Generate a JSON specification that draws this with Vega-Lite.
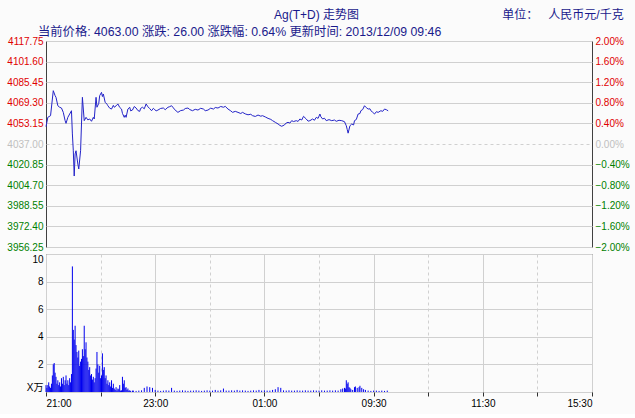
{
  "$schema": "https://vega.github.io/schema/vega-lite/v6.json",
  "background": "#fbfbfb",
  "padding": {"left": 6, "top": 9, "right": 5, "bottom": 5},
  "bounds": "flush",
  "config": {
    "font": "Liberation Sans, Noto Sans CJK SC",
    "view": {"stroke": "#404040", "strokeWidth": 1, "fill": "#fbfbfb"},
    "axis": {"labelFont": "Liberation Sans", "labelFontSize": 10, "gridColor": "#d0d0d0", "gridWidth": 1}
  },
  "title": {
    "text": "Ag(T+D) 走势图\u00a0\u00a0\u00a0\u00a0\u00a0\u00a0\u00a0\u00a0\u00a0\u00a0\u00a0\u00a0\u00a0\u00a0\u00a0\u00a0\u00a0\u00a0\u00a0\u00a0\u00a0\u00a0\u00a0\u00a0\u00a0\u00a0\u00a0\u00a0\u00a0\u00a0\u00a0\u00a0\u00a0\u00a0\u00a0\u00a0\u00a0\u00a0\u00a0\u00a0\u00a0\u00a0\u00a0单位：\u00a0\u00a0\u00a0人民币元/千克",
    "anchor": "end",
    "font": "Liberation Sans, Noto Sans CJK SC",
    "fontSize": 12,
    "fontWeight": "normal",
    "color": "#1a1a8c",
    "offset": 3,
    "dx": -6
  },
  "spacing": 7,
  "datasets": {
    "price": [
      {"t": 0, "p": 4050.6}, {"t": 2, "p": 4057.9}, {"t": 5, "p": 4059.2}, {"t": 8, "p": 4078.8},
      {"t": 10, "p": 4074.9}, {"t": 11, "p": 4073.6}, {"t": 13, "p": 4067.0}, {"t": 15, "p": 4065.8},
      {"t": 17, "p": 4065.2}, {"t": 19, "p": 4061.8}, {"t": 21, "p": 4055.3}, {"t": 22, "p": 4053.2},
      {"t": 24, "p": 4057.9}, {"t": 26, "p": 4060.5}, {"t": 28, "p": 4063.1}, {"t": 29, "p": 4044.9},
      {"t": 30, "p": 4031.7}, {"t": 31, "p": 4011.9}, {"t": 32, "p": 4029.2}, {"t": 33, "p": 4031.7},
      {"t": 35, "p": 4021.3}, {"t": 36, "p": 4017.4}, {"t": 38, "p": 4031.7}, {"t": 39, "p": 4052.7},
      {"t": 40, "p": 4073.6}, {"t": 42, "p": 4055.3}, {"t": 44, "p": 4057.9}, {"t": 46, "p": 4055.9},
      {"t": 48, "p": 4056.6}, {"t": 50, "p": 4054.8}, {"t": 52, "p": 4057.9}, {"t": 53, "p": 4056.6},
      {"t": 55, "p": 4073.6}, {"t": 56, "p": 4065.8}, {"t": 58, "p": 4068.9}, {"t": 59, "p": 4074.9},
      {"t": 61, "p": 4077.5}, {"t": 62, "p": 4074.2}, {"t": 63, "p": 4076.2}, {"t": 65, "p": 4069.7},
      {"t": 67, "p": 4068.2}, {"t": 68, "p": 4067.0}, {"t": 70, "p": 4065.1}, {"t": 72, "p": 4064.4},
      {"t": 74, "p": 4067.3}, {"t": 75, "p": 4065.8}, {"t": 77, "p": 4066.9}, {"t": 79, "p": 4068.4},
      {"t": 81, "p": 4065.7}, {"t": 83, "p": 4064.4}, {"t": 84, "p": 4061.0}, {"t": 86, "p": 4057.9},
      {"t": 87, "p": 4059.6}, {"t": 88, "p": 4057.9}, {"t": 90, "p": 4064.4}, {"t": 92, "p": 4065.8},
      {"t": 93, "p": 4063.0}, {"t": 95, "p": 4063.6}, {"t": 97, "p": 4066.4}, {"t": 99, "p": 4065.2},
      {"t": 101, "p": 4063.2}, {"t": 103, "p": 4062.6}, {"t": 104, "p": 4064.9}, {"t": 106, "p": 4065.8},
      {"t": 108, "p": 4064.6}, {"t": 110, "p": 4068.4}, {"t": 112, "p": 4066.2}, {"t": 114, "p": 4064.7},
      {"t": 116, "p": 4063.1}, {"t": 118, "p": 4065.0}, {"t": 119, "p": 4064.4}, {"t": 121, "p": 4062.9},
      {"t": 123, "p": 4063.6}, {"t": 126, "p": 4064.9}, {"t": 129, "p": 4065.2}, {"t": 131, "p": 4063.9},
      {"t": 134, "p": 4065.8}, {"t": 136, "p": 4066.3}, {"t": 138, "p": 4067.0}, {"t": 140, "p": 4065.3},
      {"t": 141, "p": 4064.4}, {"t": 143, "p": 4062.9}, {"t": 145, "p": 4061.8}, {"t": 148, "p": 4063.2},
      {"t": 151, "p": 4063.6}, {"t": 153, "p": 4064.8}, {"t": 156, "p": 4065.2}, {"t": 158, "p": 4064.0},
      {"t": 161, "p": 4063.1}, {"t": 164, "p": 4064.2}, {"t": 167, "p": 4063.6}, {"t": 170, "p": 4065.0},
      {"t": 173, "p": 4064.4}, {"t": 175, "p": 4063.1}, {"t": 178, "p": 4063.6}, {"t": 181, "p": 4065.1},
      {"t": 184, "p": 4064.4}, {"t": 186, "p": 4065.6}, {"t": 189, "p": 4065.2}, {"t": 192, "p": 4066.4},
      {"t": 195, "p": 4065.8}, {"t": 197, "p": 4066.5}, {"t": 200, "p": 4064.4}, {"t": 203, "p": 4063.0},
      {"t": 205, "p": 4061.8}, {"t": 208, "p": 4062.6}, {"t": 211, "p": 4061.8}, {"t": 214, "p": 4060.9},
      {"t": 216, "p": 4061.8}, {"t": 219, "p": 4060.6}, {"t": 222, "p": 4059.9}, {"t": 225, "p": 4060.3},
      {"t": 227, "p": 4059.2}, {"t": 230, "p": 4058.6}, {"t": 233, "p": 4059.7}, {"t": 236, "p": 4058.8},
      {"t": 238, "p": 4059.2}, {"t": 241, "p": 4058.2}, {"t": 244, "p": 4057.1}, {"t": 247, "p": 4056.3},
      {"t": 249, "p": 4055.3}, {"t": 252, "p": 4054.0}, {"t": 255, "p": 4052.7}, {"t": 257, "p": 4051.6},
      {"t": 259, "p": 4050.9}, {"t": 262, "p": 4051.9}, {"t": 264, "p": 4053.5}, {"t": 266, "p": 4054.0},
      {"t": 268, "p": 4053.4}, {"t": 270, "p": 4055.3}, {"t": 272, "p": 4054.6}, {"t": 275, "p": 4055.3},
      {"t": 277, "p": 4054.7}, {"t": 279, "p": 4056.6}, {"t": 281, "p": 4055.8}, {"t": 283, "p": 4058.7},
      {"t": 286, "p": 4056.6}, {"t": 288, "p": 4054.9}, {"t": 290, "p": 4055.3}, {"t": 293, "p": 4056.6},
      {"t": 295, "p": 4055.6}, {"t": 297, "p": 4057.9}, {"t": 299, "p": 4057.1}, {"t": 301, "p": 4060.5},
      {"t": 302, "p": 4058.4}, {"t": 304, "p": 4056.6}, {"t": 306, "p": 4057.2}, {"t": 308, "p": 4055.3},
      {"t": 311, "p": 4056.1}, {"t": 314, "p": 4055.3}, {"t": 317, "p": 4055.8}, {"t": 319, "p": 4054.8},
      {"t": 322, "p": 4055.6}, {"t": 325, "p": 4055.3}, {"t": 328, "p": 4054.5}, {"t": 330, "p": 4051.3},
      {"t": 331, "p": 4048.4}, {"t": 332, "p": 4045.5}, {"t": 334, "p": 4051.3}, {"t": 336, "p": 4052.7},
      {"t": 338, "p": 4051.9}, {"t": 339, "p": 4055.3}, {"t": 341, "p": 4056.2}, {"t": 343, "p": 4060.5},
      {"t": 345, "p": 4060.9}, {"t": 346, "p": 4063.1}, {"t": 348, "p": 4064.0}, {"t": 350, "p": 4067.0},
      {"t": 352, "p": 4065.5}, {"t": 354, "p": 4064.4}, {"t": 356, "p": 4064.6}, {"t": 357, "p": 4063.1},
      {"t": 359, "p": 4061.9}, {"t": 361, "p": 4060.5}, {"t": 363, "p": 4062.3}, {"t": 365, "p": 4061.8},
      {"t": 368, "p": 4063.1}, {"t": 370, "p": 4062.6}, {"t": 372, "p": 4064.4}, {"t": 374, "p": 4063.9},
      {"t": 376, "p": 4063.0}
    ],
    "volume": [
      {"t": 0, "v": 0.5}, {"t": 1, "v": 0.3}, {"t": 2, "v": 0.5}, {"t": 3, "v": 0.7}, {"t": 4, "v": 0.4},
      {"t": 5, "v": 0.3}, {"t": 6, "v": 0.6}, {"t": 7, "v": 1.2}, {"t": 8, "v": 2.0}, {"t": 9, "v": 2.1},
      {"t": 10, "v": 1.4}, {"t": 11, "v": 1.1}, {"t": 12, "v": 0.6}, {"t": 13, "v": 0.85}, {"t": 14, "v": 0.5},
      {"t": 15, "v": 0.7}, {"t": 16, "v": 0.4}, {"t": 17, "v": 1.0}, {"t": 18, "v": 0.6}, {"t": 19, "v": 1.1},
      {"t": 20, "v": 0.5}, {"t": 21, "v": 0.85}, {"t": 22, "v": 1.2}, {"t": 23, "v": 0.6}, {"t": 24, "v": 0.85},
      {"t": 25, "v": 0.5}, {"t": 26, "v": 1.0}, {"t": 27, "v": 0.7}, {"t": 28, "v": 1.3}, {"t": 29, "v": 9.1},
      {"t": 30, "v": 4.5}, {"t": 31, "v": 3.8}, {"t": 32, "v": 4.8}, {"t": 33, "v": 3.4}, {"t": 34, "v": 2.9},
      {"t": 35, "v": 2.5}, {"t": 36, "v": 3.0}, {"t": 37, "v": 1.9}, {"t": 38, "v": 2.2}, {"t": 39, "v": 2.4},
      {"t": 40, "v": 3.1}, {"t": 41, "v": 2.6}, {"t": 42, "v": 4.8}, {"t": 43, "v": 3.1}, {"t": 44, "v": 3.6},
      {"t": 45, "v": 2.5}, {"t": 46, "v": 2.2}, {"t": 47, "v": 1.6}, {"t": 48, "v": 1.8}, {"t": 49, "v": 1.2},
      {"t": 50, "v": 1.3}, {"t": 51, "v": 0.9}, {"t": 52, "v": 1.1}, {"t": 53, "v": 0.7}, {"t": 54, "v": 1.0},
      {"t": 55, "v": 1.7}, {"t": 56, "v": 2.9}, {"t": 57, "v": 2.0}, {"t": 58, "v": 1.4}, {"t": 59, "v": 1.9},
      {"t": 60, "v": 1.0}, {"t": 61, "v": 1.2}, {"t": 62, "v": 2.8}, {"t": 63, "v": 1.6}, {"t": 64, "v": 1.8},
      {"t": 65, "v": 1.0}, {"t": 66, "v": 1.2}, {"t": 67, "v": 0.6}, {"t": 68, "v": 0.85}, {"t": 69, "v": 0.5},
      {"t": 70, "v": 0.7}, {"t": 71, "v": 0.4}, {"t": 72, "v": 0.85}, {"t": 73, "v": 0.3}, {"t": 74, "v": 0.6},
      {"t": 75, "v": 0.25}, {"t": 76, "v": 0.15}, {"t": 77, "v": 0.35}, {"t": 78, "v": 0.1}, {"t": 79, "v": 0.25},
      {"t": 80, "v": 0.2}, {"t": 81, "v": 0.5}, {"t": 82, "v": 0.1}, {"t": 83, "v": 0.12}, {"t": 84, "v": 1.1},
      {"t": 85, "v": 0.6}, {"t": 86, "v": 0.85}, {"t": 87, "v": 0.3}, {"t": 88, "v": 0.35}, {"t": 89, "v": 0.15},
      {"t": 90, "v": 0.25}, {"t": 91, "v": 0.1}, {"t": 92, "v": 0.12}, {"t": 93, "v": 0.08}, {"t": 95, "v": 0.1},
      {"t": 96, "v": 0.1}, {"t": 99, "v": 0.08}, {"t": 102, "v": 0.1}, {"t": 105, "v": 0.12}, {"t": 108, "v": 0.3},
      {"t": 111, "v": 0.4}, {"t": 114, "v": 0.35}, {"t": 117, "v": 0.3}, {"t": 120, "v": 0.15}, {"t": 123, "v": 0.1},
      {"t": 126, "v": 0.08}, {"t": 129, "v": 0.1}, {"t": 132, "v": 0.12}, {"t": 135, "v": 0.1}, {"t": 138, "v": 0.3},
      {"t": 141, "v": 0.1}, {"t": 144, "v": 0.08}, {"t": 147, "v": 0.1}, {"t": 150, "v": 0.12}, {"t": 153, "v": 0.1},
      {"t": 156, "v": 0.08}, {"t": 159, "v": 0.1}, {"t": 162, "v": 0.1}, {"t": 165, "v": 0.12}, {"t": 168, "v": 0.1},
      {"t": 171, "v": 0.08}, {"t": 174, "v": 0.1}, {"t": 177, "v": 0.12}, {"t": 180, "v": 0.1}, {"t": 183, "v": 0.1},
      {"t": 186, "v": 0.15}, {"t": 189, "v": 0.1}, {"t": 192, "v": 0.12}, {"t": 195, "v": 0.25}, {"t": 198, "v": 0.1},
      {"t": 201, "v": 0.1}, {"t": 204, "v": 0.12}, {"t": 207, "v": 0.1}, {"t": 210, "v": 0.15}, {"t": 213, "v": 0.1},
      {"t": 216, "v": 0.12}, {"t": 219, "v": 0.1}, {"t": 222, "v": 0.08}, {"t": 225, "v": 0.1}, {"t": 228, "v": 0.12},
      {"t": 231, "v": 0.1}, {"t": 234, "v": 0.15}, {"t": 237, "v": 0.1}, {"t": 240, "v": 0.12}, {"t": 243, "v": 0.1},
      {"t": 246, "v": 0.1}, {"t": 249, "v": 0.15}, {"t": 252, "v": 0.2}, {"t": 255, "v": 0.35}, {"t": 258, "v": 0.3},
      {"t": 261, "v": 0.12}, {"t": 264, "v": 0.1}, {"t": 267, "v": 0.12}, {"t": 270, "v": 0.1}, {"t": 273, "v": 0.1},
      {"t": 276, "v": 0.12}, {"t": 279, "v": 0.1}, {"t": 282, "v": 0.1}, {"t": 285, "v": 0.12}, {"t": 288, "v": 0.1},
      {"t": 291, "v": 0.1}, {"t": 294, "v": 0.12}, {"t": 297, "v": 0.1}, {"t": 300, "v": 0.1}, {"t": 303, "v": 0.12},
      {"t": 306, "v": 0.1}, {"t": 309, "v": 0.1}, {"t": 312, "v": 0.12}, {"t": 315, "v": 0.1}, {"t": 318, "v": 0.12},
      {"t": 321, "v": 0.1}, {"t": 324, "v": 0.2}, {"t": 326, "v": 0.25}, {"t": 328, "v": 0.3}, {"t": 329, "v": 0.25},
      {"t": 330, "v": 0.85}, {"t": 331, "v": 0.6}, {"t": 332, "v": 0.7}, {"t": 333, "v": 0.35}, {"t": 334, "v": 0.3},
      {"t": 335, "v": 0.2}, {"t": 337, "v": 0.15}, {"t": 339, "v": 0.35}, {"t": 340, "v": 0.4}, {"t": 342, "v": 0.3},
      {"t": 344, "v": 0.35}, {"t": 345, "v": 0.45}, {"t": 347, "v": 0.3}, {"t": 349, "v": 0.2}, {"t": 351, "v": 0.15},
      {"t": 354, "v": 0.1}, {"t": 357, "v": 0.08}, {"t": 360, "v": 0.1}, {"t": 363, "v": 0.1}, {"t": 366, "v": 0.08},
      {"t": 369, "v": 0.1}, {"t": 372, "v": 0.08}, {"t": 375, "v": 0.1}
    ]
  },
  "vconcat": [
    {
      "width": 546,
      "height": 206,
      "title": {
        "text": "当前价格: 4063.00 涨跌: 26.00 涨跌幅: 0.64% 更新时间: 2013/12/09 09:46",
        "anchor": "start",
        "frame": "group",
        "dx": -8,
        "font": "Liberation Sans, Noto Sans CJK SC",
        "fontSize": 12.3,
        "fontWeight": "normal",
        "color": "#1a1a8c",
        "offset": -2
      },
      "data": {"name": "price"},
      "layer": [
        {
          "mark": {"type": "line", "color": "#2424c8", "strokeWidth": 1, "interpolate": "linear"},
          "encoding": {
            "x": {
              "field": "t", "type": "quantitative",
              "scale": {"domain": [0, 600], "nice": false, "zero": false},
              "axis": {
                "title": null, "labels": false, "ticks": false, "domain": false,
                "minExtent": 0, "maxExtent": 0, "offset": 0,
                "values": [0, 60, 120, 180, 240, 300, 360, 420, 480, 540, 600],
                "grid": true,
                "gridDash": {"condition": {"test": "datum.value % 120 !== 0", "value": [3, 3]}, "value": []}
              }
            },
            "y": {
              "field": "p", "type": "quantitative",
              "scale": {"domain": [3956.25, 4117.75], "nice": false, "zero": false},
              "axis": {
                "title": null, "orient": "left", "domain": false, "ticks": false, "labelPadding": 3,
                "values": [3956.25, 3972.4, 3988.55, 4004.7, 4020.85, 4037.0, 4053.15, 4069.3, 4085.45, 4101.6, 4117.75],
                "format": ".2f",
                "grid": true,
                "gridDash": {"condition": {"test": "abs(datum.value - 4037) < 0.01", "value": [3, 3]}, "value": []},
                "labelColor": {"condition": [
                  {"test": "datum.value > 4037.01", "value": "#e00000"},
                  {"test": "datum.value < 4036.99", "value": "#008000"}
                ], "value": "#c0c0c0"}
              }
            }
          }
        },
        {
          "mark": {"type": "line", "opacity": 0},
          "encoding": {
            "x": {"field": "t", "type": "quantitative", "scale": {"domain": [0, 600], "nice": false, "zero": false}, "axis": null},
            "y": {
              "field": "p", "type": "quantitative",
              "scale": {"domain": [3956.25, 4117.75], "nice": false, "zero": false},
              "axis": {
                "title": null, "orient": "right", "domain": false, "ticks": false, "grid": false, "labelPadding": 3,
                "values": [3956.25, 3972.4, 3988.55, 4004.7, 4020.85, 4037.0, 4053.15, 4069.3, 4085.45, 4101.6, 4117.75],
                "labelExpr": "format((datum.value - 4037) / 4037 * 100, '.2f') + '%'",
                "labelColor": {"condition": [
                  {"test": "datum.value > 4037.01", "value": "#e00000"},
                  {"test": "datum.value < 4036.99", "value": "#008000"}
                ], "value": "#c0c0c0"}
              }
            }
          }
        }
      ],
      "resolve": {"scale": {"y": "independent"}, "axis": {"y": "independent"}}
    },
    {
      "width": 546,
      "height": 138,
      "data": {"name": "volume"},
      "mark": {"type": "rule", "color": "#0000ee", "strokeWidth": 1},
      "encoding": {
        "x": {
          "field": "t", "type": "quantitative",
          "scale": {"domain": [0, 600], "nice": false, "zero": false},
          "axis": {
            "title": null, "domain": false,
            "values": [0, 60, 120, 180, 240, 300, 360, 420, 480, 540, 600],
            "tickSize": 4, "tickColor": "#303030", "labelColor": "#000000", "labelPadding": 2,
            "labelExpr": "datum.value == 0 ? '21:00' : datum.value == 120 ? '23:00' : datum.value == 240 ? '01:00' : datum.value == 360 ? '09:30' : datum.value == 480 ? '11:30' : datum.value == 600 ? '15:30' : ''",
            "grid": true,
            "gridDash": {"condition": {"test": "datum.value % 120 !== 0", "value": [3, 3]}, "value": []}
          }
        },
        "y": {
          "field": "v", "type": "quantitative",
          "scale": {"domain": [0, 10], "nice": false},
          "axis": {
            "title": null, "domain": false, "ticks": false, "labelPadding": 3,
            "labelFlush": true,
            "values": [0, 2, 4, 6, 8, 10], "labelColor": "#000000",
            "labelExpr": "datum.value == 0 ? 'X万' : datum.label",
            "labelFont": "Liberation Sans, Noto Sans CJK SC",
            "grid": true
          }
        },
        "y2": {"datum": 0}
      }
    }
  ]
}
